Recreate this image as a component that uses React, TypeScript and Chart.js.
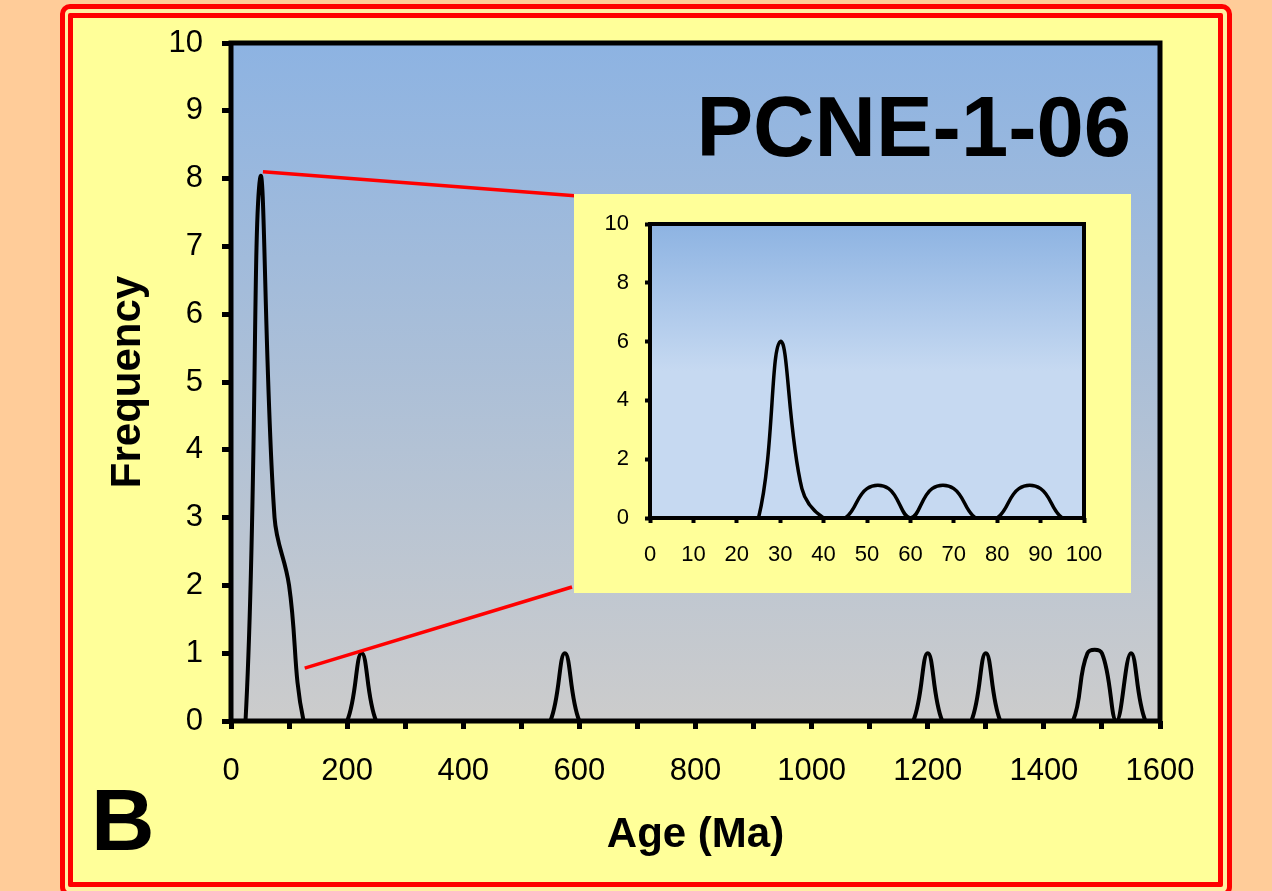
import React, { useEffect, useRef } from "react";
import { Chart, registerables } from "chart.js";

Chart.register(...registerables);

// ---------- data ----------
const mainAges = [
  0, 25, 50, 75, 100, 125, 150, 175, 200, 225, 250, 275, 300, 325, 350, 375,
  400, 425, 450, 475, 500, 525, 550, 575, 600, 625, 650, 675, 700, 725, 750,
  775, 800, 825, 850, 875, 900, 925, 950, 975, 1000, 1025, 1050, 1075, 1100,
  1125, 1150, 1175, 1200, 1225, 1250, 1275, 1300, 1325, 1350, 1375, 1400,
  1425, 1450, 1475, 1500, 1525, 1550, 1575, 1600,
];
const mainFreq = [
  0, 0, 8, 3, 2, 0, 0, 0, 0, 1, 0, 0, 0, 0, 0, 0,
  0, 0, 0, 0, 0, 0, 0, 1, 0, 0, 0, 0, 0, 0, 0,
  0, 0, 0, 0, 0, 0, 0, 0, 0, 0, 0, 0, 0, 0,
  0, 0, 0, 1, 0, 0, 0, 1, 0, 0, 0, 0,
  0, 0, 1, 1, 0, 1, 0, 0,
];
const insetAges = [0, 5, 10, 15, 20, 25, 30, 35, 40, 45, 50, 55, 60, 65, 70, 75, 80, 85, 90, 95, 100];
const insetFreq = [0, 0, 0, 0, 0, 0, 6, 1, 0, 0, 1, 1, 0, 1, 1, 0, 0, 1, 1, 0, 0];

// connector lines: start points in main-chart data coordinates
const connectorAge = [55, 127];
const connectorFreq = [8.1, 0.78];

const mainTitle = "PCNE-1-06";
const panelLetter = "B";
const xTitle = "Age (Ma)";
const yTitle = "Frequency";

// ---------- layout constants ----------
const W = 1272;
const H = 891;
const INSET = { left: 574, top: 194, width: 557, height: 399 };
const FONT = '"Liberation Sans", Arial, Helvetica, sans-serif';

export default function App() {
  const mainRef = useRef<HTMLCanvasElement | null>(null);
  const insetRef = useRef<HTMLCanvasElement | null>(null);

  useEffect(() => {
    const mainBg = {
      id: "mainBg",
      beforeDraw(chart: any) {
        const { ctx, chartArea: a } = chart;
        const g = ctx.createLinearGradient(0, a.top, 0, a.bottom);
        g.addColorStop(0, "#8DB3E2");
        g.addColorStop(1, "#CCCCCC");
        ctx.save();
        ctx.fillStyle = g;
        ctx.fillRect(a.left, a.top, a.right - a.left, a.bottom - a.top);
        ctx.restore();
      },
      afterDatasetsDraw(chart: any) {
        const { ctx, chartArea: a, scales } = chart;
        ctx.save();
        ctx.strokeStyle = "#FF0000";
        ctx.lineWidth = 3.5;
        const ends = [
          [INSET.left + 4, INSET.top + 2],
          [INSET.left - 2, INSET.top + INSET.height - 6],
        ];
        for (let i = 0; i < connectorAge.length; i++) {
          ctx.beginPath();
          ctx.moveTo(scales.x.getPixelForValue(connectorAge[i]), scales.y.getPixelForValue(connectorFreq[i]));
          ctx.lineTo(ends[i][0], ends[i][1]);
          ctx.stroke();
        }
        ctx.strokeStyle = "#000";
        ctx.lineWidth = 5;
        ctx.strokeRect(a.left, a.top, a.right - a.left, a.bottom - a.top);
        ctx.restore();
      },
      afterDraw(chart: any) {
        const { ctx, chartArea: a } = chart;
        ctx.save();
        ctx.fillStyle = "#000";
        ctx.textBaseline = "alphabetic";
        ctx.font = `bold 85px ${FONT}`;
        ctx.textAlign = "right";
        ctx.fillText(mainTitle, 1131, 156);
        ctx.font = `bold 88px ${FONT}`;
        ctx.textAlign = "left";
        ctx.fillText(panelLetter, 91, 850);
        ctx.font = `bold 42px ${FONT}`;
        ctx.textAlign = "center";
        ctx.fillText(xTitle, (a.left + a.right) / 2, 847);
        ctx.translate(140, (a.top + a.bottom) / 2);
        ctx.rotate(-Math.PI / 2);
        ctx.fillText(yTitle, 0, 0);
        ctx.restore();
      },
    };

    const main = new Chart(mainRef.current as HTMLCanvasElement, {
      type: "line",
      data: {
        datasets: [
          {
            data: mainAges.map((a, i) => ({ x: a, y: mainFreq[i] })),
            borderColor: "#000",
            borderWidth: 4,
            pointRadius: 0,
            tension: 0.4,
            fill: false,
          },
        ],
      },
      options: {
        animation: false,
        responsive: false,
        maintainAspectRatio: false,
        layout: { padding: { left: 0, top: 43, right: 112, bottom: 0 } },
        plugins: { legend: { display: false }, tooltip: { enabled: false } },
        scales: {
          x: {
            type: "linear",
            min: 0,
            max: 1600,
            ticks: {
              stepSize: 100,
              autoSkip: false,
              maxRotation: 0,
              padding: 24,
              color: "#000",
              font: { family: FONT, size: 31 },
              callback: (v: any) => (Number(v) % 200 === 0 ? String(v) : ""),
            },
            grid: { drawOnChartArea: false, drawTicks: true, tickLength: 8, tickWidth: 5, tickColor: "#000" },
            border: { display: false },
            afterFit: (s: any) => {
              s.height = 170;
            },
          },
          y: {
            type: "linear",
            min: 0,
            max: 10,
            ticks: {
              stepSize: 1,
              padding: 19,
              color: "#000",
              font: { family: FONT, size: 31 },
            },
            grid: { drawOnChartArea: false, drawTicks: true, tickLength: 9, tickWidth: 5, tickColor: "#000" },
            border: { display: false },
            afterFit: (s: any) => {
              s.width = 231;
            },
          },
        },
      },
      plugins: [mainBg],
    } as any);

    const insetBg = {
      id: "insetBg",
      beforeDraw(chart: any) {
        const { ctx, chartArea: a } = chart;
        const g = ctx.createLinearGradient(0, a.top, 0, a.bottom);
        g.addColorStop(0, "#8DB3E2");
        g.addColorStop(0.5, "#C6D9F1");
        g.addColorStop(1, "#C6D9F1");
        ctx.save();
        ctx.fillStyle = g;
        ctx.fillRect(a.left, a.top, a.right - a.left, a.bottom - a.top);
        ctx.restore();
      },
      afterDatasetsDraw(chart: any) {
        const { ctx, chartArea: a } = chart;
        ctx.save();
        ctx.strokeStyle = "#000";
        ctx.lineWidth = 4;
        ctx.strokeRect(a.left, a.top, a.right - a.left, a.bottom - a.top);
        ctx.restore();
      },
    };

    const inset = new Chart(insetRef.current as HTMLCanvasElement, {
      type: "line",
      data: {
        datasets: [
          {
            data: insetAges.map((a, i) => ({ x: a, y: insetFreq[i] })),
            borderColor: "#000",
            borderWidth: 3.5,
            pointRadius: 0,
            tension: 0.4,
            fill: false,
          },
        ],
      },
      options: {
        animation: false,
        responsive: false,
        maintainAspectRatio: false,
        layout: { padding: { left: 0, top: 30, right: 47, bottom: 0 } },
        plugins: { legend: { display: false }, tooltip: { enabled: false } },
        scales: {
          x: {
            type: "linear",
            min: 0,
            max: 100,
            ticks: {
              stepSize: 10,
              autoSkip: false,
              maxRotation: 0,
              padding: 19,
              color: "#000",
              font: { family: FONT, size: 22 },
            },
            grid: { drawOnChartArea: false, drawTicks: true, tickLength: 5, tickWidth: 4, tickColor: "#000" },
            border: { display: false },
            afterFit: (s: any) => {
              s.height = 75;
            },
          },
          y: {
            type: "linear",
            min: 0,
            max: 10,
            ticks: {
              stepSize: 2,
              padding: 16,
              color: "#000",
              font: { family: FONT, size: 22 },
            },
            grid: { drawOnChartArea: false, drawTicks: true, tickLength: 5, tickWidth: 4, tickColor: "#000" },
            border: { display: false },
            afterFit: (s: any) => {
              s.width = 76;
            },
          },
        },
      },
      plugins: [insetBg],
    } as any);

    return () => {
      main.destroy();
      inset.destroy();
    };
  }, []);

  return (
    <div
      style={{
        position: "fixed",
        left: 0,
        top: 0,
        width: W,
        height: H,
        overflow: "hidden",
        background: "#FFCC99",
      }}
    >
      <div
        style={{
          position: "absolute",
          left: 60,
          top: 4,
          width: 1172,
          height: 893,
          boxSizing: "border-box",
          border: "5px solid #FF0000",
          borderRadius: 10,
          background: "#FFEFA3",
        }}
      />
      <div
        style={{
          position: "absolute",
          left: 68,
          top: 13,
          width: 1155,
          height: 874,
          boxSizing: "border-box",
          border: "5px solid #FF0000",
          borderRadius: 2,
          background: "#FFFF99",
        }}
      />
      <canvas
        ref={mainRef}
        width={W}
        height={H}
        style={{ position: "absolute", left: 0, top: 0, width: W, height: H }}
      />
      <div
        style={{
          position: "absolute",
          left: INSET.left,
          top: INSET.top,
          width: INSET.width,
          height: INSET.height,
          background: "#FFFF99",
        }}
      >
        <canvas
          ref={insetRef}
          width={INSET.width}
          height={INSET.height}
          style={{ position: "absolute", left: 0, top: 0, width: INSET.width, height: INSET.height }}
        />
      </div>
    </div>
  );
}
